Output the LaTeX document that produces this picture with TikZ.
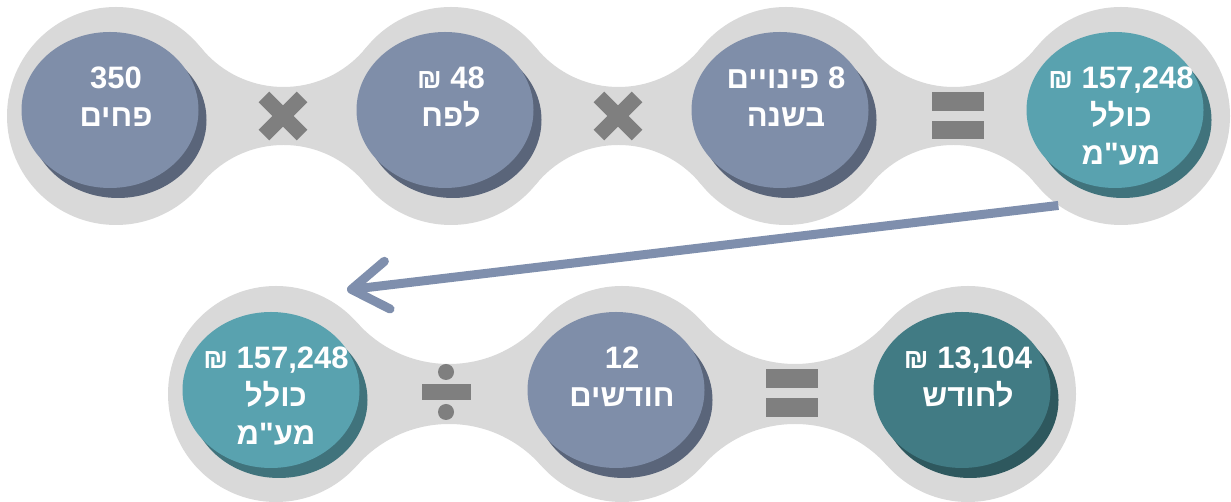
\documentclass[tikz,border=0pt]{standalone}
\usepackage{fontspec}
\usetikzlibrary{shapes.geometric,arrows.meta,calc}
\TeXXeTstate=1
\newfontfamily\hebfont[Script=Hebrew]{Liberation Sans}
\newcommand{\heb}[1]{\beginR #1\endR}
\newcommand{\shekel}{{\fontsize{28}{28}\selectfont ₪}}

\definecolor{ringgray}{HTML}{D9D9D9}
\definecolor{opgray}{HTML}{7F7F7F}
\definecolor{slate}{HTML}{7F8EA9}
\definecolor{slatedark}{HTML}{5A657A}
\definecolor{tealA}{HTML}{59A2AF}
\definecolor{tealAdark}{HTML}{40737C}
\definecolor{tealB}{HTML}{417B84}
\definecolor{tealBdark}{HTML}{2E585E}
\definecolor{flowblue}{HTML}{7F8FAD}

% concave neck joining two ring circles: x1, x2, centre y, fillet offset, fillet radius
\newcommand{\necklink}[5]{%
  \begin{scope}
    \clip (#1,#3) -- ({(#1+#2)/2},{#3+#4}) -- (#2,#3) -- ({(#1+#2)/2},{#3-#4}) -- cycle;
    \fill[ringgray, even odd rule]
      (#1-5,#3-#4-5) rectangle (#2+5,#3+#4+5)
      ({(#1+#2)/2},{#3+#4}) circle[radius=#5]
      ({(#1+#2)/2},{#3-#4}) circle[radius=#5];
  \end{scope}}

\tikzset{
  ring/.style={circle, fill=ringgray, inner sep=0pt, minimum size=#1},
  disc/.style={ellipse, inner sep=0pt, minimum width=177pt, minimum height=156pt},
  discshadow/.style={disc, xshift=8pt, yshift=-10pt},
  figure text/.style={font=\hebfont\bfseries\fontsize{31}{38}\selectfont,
    text=white, align=center, inner sep=0pt, anchor=north},
  flow/.style={line width=9pt, draw=flowblue,
    -{Straight Barb[length=36pt, width=48pt, round]}},
}

\begin{document}
\begin{tikzpicture}[x=1pt, y=1pt]
\useasboundingbox (0,0) rectangle (1231,502);
\fill[white] (0,0) rectangle (1231,502);

% ---- upper chain ----
\necklink{116}{451}{386}{135.35}{106.35}
\necklink{451}{786}{386}{135.35}{106.35}
\necklink{786}{1121}{386}{135.35}{106.35}
\node[ring=218pt] (o1) at (116,386) {};
\node[ring=218pt] (o2) at (451,386) {};
\node[ring=218pt] (o3) at (786,386) {};
\node[ring=218pt] (o4) at (1121,386) {};

\node[discshadow, fill=slatedark] at (110,392) {};
\node[disc, fill=slate] (m1) at (110,392) {};
\node[discshadow, fill=slatedark] at (445,392) {};
\node[disc, fill=slate] (m2) at (445,392) {};
\node[discshadow, fill=slatedark] at (780,392) {};
\node[disc, fill=slate] (m3) at (780,392) {};
\node[discshadow, fill=tealAdark] at (1115,392) {};
\node[disc, fill=tealA] (m4) at (1115,392) {};

\node[figure text] (t1) at (116,435) {350\\\heb{פחים}};
\node[figure text] (t2) at (451,435) {\shekel\ 48\\\heb{לפח}};
\node[figure text] (t3) at (786,435) {\heb{8 פינויים}\\\heb{בשנה}};
\node[figure text] (t4) at (1121,435) {\shekel\ 157,248\\\heb{כולל}\\\heb{מע"מ}};

% multiplication signs
\foreach \cx in {283,618}{
  \fill[opgray, rotate around={45:(\cx,386)}] (\cx-27,378.5) rectangle (\cx+27,393.5);
  \fill[opgray, rotate around={-45:(\cx,386)}] (\cx-27,378.5) rectangle (\cx+27,393.5);
}
% equals sign
\fill[opgray] (932,391) rectangle (984,410);
\fill[opgray] (932,363) rectangle (984,381);

% ---- lower chain ----
\necklink{276}{622}{108}{152.85}{122.85}
\necklink{622}{968}{108}{152.85}{122.85}
\node[ring=216pt] (p1) at (276,108) {};
\node[ring=216pt] (p2) at (622,108) {};
\node[ring=216pt] (p3) at (968,108) {};

\node[discshadow, fill=tealAdark] at (271,112) {};
\node[disc, fill=tealA] (n1) at (271,112) {};
\node[discshadow, fill=slatedark] at (616,112) {};
\node[disc, fill=slate] (n2) at (616,112) {};
\node[discshadow, fill=tealBdark] at (962,112) {};
\node[disc, fill=tealB] (n3) at (962,112) {};

\node[figure text] (u1) at (276,155) {\shekel\ 157,248\\\heb{כולל}\\\heb{מע"מ}};
\node[figure text] (u2) at (622,155) {12\\\heb{חודשים}};
\node[figure text] (u3) at (968,155) {\shekel\ 13,104\\\heb{לחודש}};

% division sign
\fill[opgray] (422,102) rectangle (471,118);
\fill[opgray] (446,130) circle[radius=8];
\fill[opgray] (446,90) circle[radius=8];
% equals sign
\fill[opgray] (766,114) rectangle (818,133);
\fill[opgray] (766,85) rectangle (818,104);

% carry-over arrow
\coordinate (carry) at ($(p1.center)+(55.7:126)$);
\draw[flow] (o4.235) -- (carry);
\end{tikzpicture}
\end{document}
